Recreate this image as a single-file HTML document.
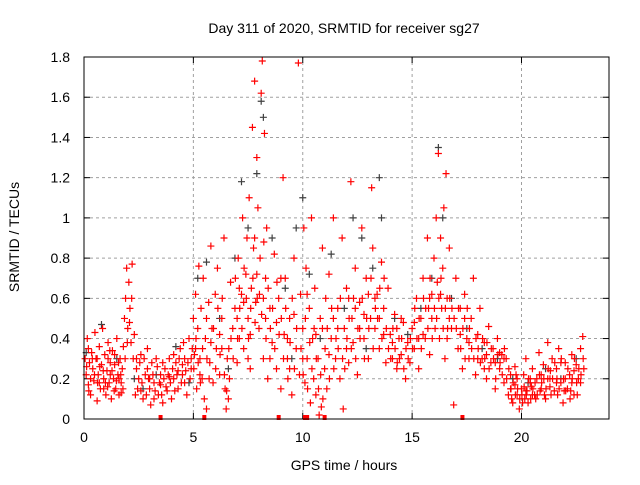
<!DOCTYPE html>
<html><head><meta charset="utf-8"><style>
html,body{margin:0;padding:0;background:#fff;}
svg text{font-family:"Liberation Sans",sans-serif;}
</style></head><body>
<svg id="chart" width="640" height="480" viewBox="0 0 640 480" xmlns="http://www.w3.org/2000/svg">
<rect width="640" height="480" fill="#fff"/>
<text x="344" y="33" font-size="14" text-anchor="middle" fill="#000">Day 311 of 2020, SRMTID for receiver sg27</text>
<g id="grid"></g>
<g id="ticks"></g>
<g id="marks"></g>
<rect x="84" y="57" width="525" height="362" fill="none" stroke="#000" stroke-width="1"/>
<text x="344" y="470" font-size="14" text-anchor="middle">GPS time / hours</text>
<text transform="translate(19,237) rotate(-90)" font-size="14" text-anchor="middle">SRMTID / TECUs</text>
</svg>
<script>
const xTicks=[0,5,10,15,20];
const yTicks=[0,0.2,0.4,0.6,0.8,1,1.2,1.4,1.6,1.8];
const yTickLabels=["0","0.2","0.4","0.6","0.8","1","1.2","1.4","1.6","1.8"];
const zeroMarkHours=[3.5,5.5,8.9,10.1,10.2,11.0,17.3];
const blackSeries=[[0.1,0.33],[0.8,0.47],[1.5,0.3],[2.3,0.2],[3.3,0.22],[4.2,0.36],[5.2,0.7],[5.6,0.78],[6.2,0.5],[6.9,0.8],[7.2,1.18],[7.5,0.95],[7.9,1.22],[8.1,1.58],[8.2,1.5],[8.6,0.9],[9.2,0.65],[9.7,0.95],[10.0,1.1],[10.3,0.72],[10.8,0.4],[11.3,0.82],[11.9,0.55],[12.3,1.0],[12.7,0.9],[13.2,0.75],[13.6,1.0],[13.5,1.2],[14.2,0.5],[14.8,0.42],[15.4,0.55],[15.9,0.7],[16.2,1.35],[16.4,1.0],[16.8,0.6],[17.5,0.45],[18.2,0.35],[18.9,0.3],[19.6,0.2],[20.3,0.18],[21.1,0.25],[21.8,0.2],[22.5,0.3],[12.9,0.35],[9.5,0.3],[6.6,0.25],[4.8,0.18],[2.7,0.15]];
const redSeries=[
[0.05,0.3],[0.1,0.22],[0.15,0.4],[0.2,0.17],[0.25,0.28],[0.3,0.12],[0.35,0.33],[0.4,0.25],[0.45,0.19],[0.5,0.43],[0.55,0.3],[0.6,0.09],[0.65,0.22],[0.7,0.36],[0.75,0.15],[0.8,0.27],[0.85,0.45],[0.9,0.2],[0.95,0.32],[1.0,0.12],[1.05,0.24],[1.1,0.38],[1.15,0.18],[1.2,0.28],[1.25,0.1],[1.3,0.34],[1.35,0.2],[1.4,0.27],[1.45,0.15],[1.5,0.4],[1.55,0.22],[1.6,0.12],[1.65,0.3],[1.7,0.18],[1.75,0.25],[1.8,0.36],[1.85,0.5],[1.9,0.6],[1.95,0.75],[2.0,0.45],[2.05,0.68],[2.1,0.55],[2.15,0.38],[2.2,0.77],[2.25,0.3],[2.3,0.42],[2.35,0.12],[2.4,0.25],[2.5,0.2],[2.6,0.32],[2.7,0.1],[2.8,0.22],[2.9,0.35],[3.0,0.15],[3.05,0.07],[3.1,0.28],[3.2,0.18],[3.3,0.3],[3.4,0.12],[3.5,0.22],[3.6,0.08],[3.7,0.25],[3.8,0.14],[3.9,0.3],[4.0,0.1],[4.1,0.2],[4.2,0.28],[4.3,0.15],[4.4,0.35],[4.5,0.22],[4.6,0.3],[4.7,0.12],[4.8,0.4],[4.9,0.25],[5.0,0.5],[5.05,0.32],[5.1,0.62],[5.15,0.15],[5.2,0.45],[5.25,0.76],[5.3,0.3],[5.35,0.55],[5.4,0.2],[5.45,0.7],[5.5,0.1],[5.55,0.4],[5.6,0.05],[5.7,0.58],[5.75,0.28],[5.8,0.86],[5.85,0.45],[5.9,0.18],[6.0,0.62],[6.05,0.35],[6.1,0.75],[6.2,0.22],[6.3,0.5],[6.4,0.9],[6.45,0.15],[6.5,0.05],[6.55,0.3],[6.6,0.1],[6.65,0.2],[6.7,0.68],[6.8,0.45],[6.9,0.55],[7.0,0.28],[7.05,0.8],[7.1,0.4],[7.2,0.62],[7.25,1.0],[7.3,0.35],[7.4,0.72],[7.45,0.9],[7.5,0.5],[7.55,1.1],[7.6,0.25],[7.65,0.65],[7.7,1.45],[7.75,0.85],[7.8,1.68],[7.85,0.58],[7.9,1.3],[7.95,1.05],[8.0,0.45],[8.05,0.8],[8.1,1.62],[8.15,1.78],[8.2,0.3],[8.25,1.42],[8.3,0.7],[8.35,0.95],[8.4,0.2],[8.5,0.55],[8.6,0.38],[8.7,0.82],[8.8,0.25],[8.9,0.6],[9.0,0.15],[9.1,1.2],[9.15,0.42],[9.2,0.7],[9.3,0.3],[9.4,0.5],[9.5,0.12],[9.6,0.8],[9.7,0.35],[9.8,1.77],[9.85,0.22],[9.9,0.62],[10.0,0.45],[10.05,0.95],[10.1,0.18],[10.15,0.75],[10.2,0.3],[10.3,0.55],[10.35,0.08],[10.4,1.0],[10.45,0.4],[10.5,0.2],[10.55,0.65],[10.6,0.12],[10.7,0.3],[10.75,0.02],[10.8,0.5],[10.85,0.06],[10.9,0.85],[11.0,0.25],[11.05,0.6],[11.1,0.15],[11.2,0.72],[11.3,0.4],[11.4,1.0],[11.5,0.3],[11.6,0.55],[11.7,0.2],[11.8,0.9],[11.85,0.05],[11.9,0.45],[12.0,0.65],[12.1,0.28],[12.2,1.18],[12.25,0.5],[12.3,0.38],[12.4,0.75],[12.5,0.22],[12.6,0.58],[12.7,0.95],[12.8,0.4],[12.9,0.7],[13.0,0.3],[13.1,0.5],[13.15,1.15],[13.2,0.85],[13.3,0.45],[13.4,0.62],[13.5,0.35],[13.6,0.78],[13.7,0.55],[13.8,0.28],[13.9,0.65],[14.0,0.42],[14.1,0.3],[14.2,0.52],[14.3,0.25],[14.4,0.4],[14.5,0.32],[14.6,0.48],[14.7,0.2],[14.8,0.38],[14.9,0.28],[15.0,0.45],[15.1,0.35],[15.2,0.6],[15.3,0.25],[15.4,0.5],[15.5,0.7],[15.6,0.4],[15.7,0.9],[15.75,0.55],[15.8,0.32],[15.9,0.62],[16.0,0.8],[16.05,0.45],[16.1,1.0],[16.15,0.68],[16.2,1.32],[16.25,0.4],[16.3,0.9],[16.35,0.55],[16.4,0.75],[16.45,1.05],[16.5,0.3],[16.55,1.22],[16.6,0.6],[16.7,0.85],[16.8,0.45],[16.9,0.07],[17.0,0.7],[17.1,0.35],[17.2,0.55],[17.3,0.25],[17.4,0.62],[17.5,0.4],[17.6,0.3],[17.7,0.5],[17.8,0.7],[17.9,0.22],[18.0,0.42],[18.1,0.55],[18.2,0.3],[18.3,0.38],[18.4,0.2],[18.5,0.46],[18.6,0.28],[18.7,0.35],[18.8,0.15],[18.9,0.4],[19.0,0.25],[19.1,0.32],[19.2,0.18],[19.3,0.3],[19.4,0.12],[19.5,0.22],[19.6,0.08],[19.7,0.17],[19.8,0.12],[19.9,0.05],[20.0,0.15],[20.1,0.22],[20.15,0.1],[20.2,0.3],[20.3,0.08],[20.4,0.18],[20.5,0.25],[20.6,0.12],[20.7,0.2],[20.8,0.33],[20.9,0.15],[21.0,0.27],[21.1,0.1],[21.2,0.38],[21.3,0.2],[21.4,0.3],[21.5,0.14],[21.6,0.25],[21.7,0.35],[21.8,0.18],[21.9,0.08],[22.0,0.28],[22.1,0.15],[22.2,0.22],[22.3,0.32],[22.4,0.12],[22.5,0.27],[22.6,0.2],[22.7,0.35],[22.8,0.41],[22.85,0.25],
[0.3,0.2],[0.6,0.3],[0.9,0.15],[1.2,0.22],[1.4,0.32],[1.7,0.13],[2.6,0.14],[2.9,0.25],[3.2,0.1],[3.5,0.17],[3.9,0.21],[4.3,0.24],[4.6,0.18],[4.9,0.3],[5.3,0.22],[5.8,0.38],[6.2,0.42],[7.0,0.5],[7.3,0.58],[7.6,0.42],[7.9,0.72],[8.2,0.6],[8.5,0.3],[8.8,0.48],[9.3,0.4],[9.6,0.52],[10.2,0.62],[10.6,0.42],[11.2,0.32],[11.6,0.45],[12.0,0.35],[12.4,0.55],[12.8,0.52],[13.3,0.6],[13.7,0.42],[14.1,0.38],[14.5,0.5],[15.1,0.48],[15.5,0.42],[15.9,0.5],[16.3,0.62],[16.7,0.5],[17.2,0.42],[17.6,0.38],[18.0,0.3],[18.4,0.32],[18.8,0.28],[19.2,0.3],[19.5,0.15],[19.8,0.2],[20.2,0.14],[20.5,0.12],[20.9,0.22],[21.3,0.16],[21.6,0.18],[22.0,0.2],[22.4,0.24],[22.7,0.18],
[0.2,0.35],[0.7,0.18],[1.1,0.3],[1.6,0.2],[2.4,0.3],[3.0,0.2],[3.6,0.28],[4.1,0.32],[4.5,0.27],[5.1,0.35],[5.6,0.5],[6.3,0.35],[7.1,0.65],[7.5,0.3],[7.8,0.9],[8.3,0.5],[9.0,0.7],[9.4,0.25],[10.0,0.3],[10.9,0.45],[11.4,0.5],[12.1,0.6],[12.6,0.45],[13.0,0.62],[13.5,0.5],[14.3,0.45],[15.3,0.4],[15.8,0.6],[16.6,0.4],[17.4,0.5],[18.3,0.25],[19.0,0.33],[19.7,0.26],[20.4,0.2],[21.2,0.2],[21.8,0.28],[22.3,0.18],
[0.12,0.26],[0.22,0.14],[0.38,0.3],[0.48,0.22],[0.62,0.18],[0.72,0.26],[0.88,0.24],[0.98,0.18],[1.08,0.16],[1.18,0.34],[1.28,0.24],[1.38,0.14],[1.48,0.19],[1.58,0.28],[1.68,0.22],[1.78,0.15],[1.88,0.3],[1.98,0.38],[2.08,0.48],[2.18,0.6],[2.45,0.15],[2.55,0.28],[2.65,0.18],[2.75,0.3],[2.85,0.12],[2.95,0.2],[3.15,0.22],[3.25,0.14],[3.35,0.26],[3.45,0.18],[3.55,0.12],[3.65,0.2],[3.75,0.16],[3.85,0.22],[3.95,0.18],[4.05,0.25],[4.15,0.14],[4.25,0.22],[4.35,0.3],[4.45,0.18],[4.55,0.38],[4.65,0.24],[4.75,0.28],[4.85,0.2],[4.95,0.35],[5.02,0.25],[5.12,0.4],[5.22,0.28],[5.32,0.18],[5.42,0.35],[5.62,0.3],[5.72,0.2],[5.92,0.45],[6.02,0.25],[6.12,0.55],[6.22,0.32],[6.32,0.6],[6.42,0.22],[6.52,0.14],[6.62,0.35],[6.72,0.4],[6.82,0.3],[6.92,0.7],[7.02,0.4],[7.12,0.55],[7.22,0.45],[7.32,0.75],[7.42,0.6],[7.52,0.4],[7.62,0.55],[7.72,0.7],[7.82,0.48],[7.92,0.6],[8.02,0.62],[8.12,0.52],[8.22,0.88],[8.32,0.4],[8.42,0.65],[8.52,0.45],[8.62,0.55],[8.72,0.35],[8.82,0.68],[8.92,0.42],[9.02,0.5],[9.12,0.3],[9.22,0.55],[9.32,0.2],[9.42,0.38],[9.52,0.6],[9.62,0.25],[9.72,0.45],[9.92,0.35],[10.02,0.22],[10.12,0.5],[10.22,0.15],[10.32,0.38],[10.42,0.25],[10.52,0.45],[10.62,0.3],[10.72,0.15],[10.82,0.22],[10.92,0.1],[11.02,0.35],[11.12,0.45],[11.22,0.2],[11.32,0.55],[11.42,0.25],[11.52,0.4],[11.62,0.35],[11.72,0.6],[11.82,0.3],[11.92,0.25],[12.02,0.4],[12.12,0.5],[12.22,0.35],[12.32,0.6],[12.42,0.3],[12.52,0.45],[12.62,0.4],[12.72,0.6],[12.82,0.3],[12.92,0.5],[13.02,0.45],[13.12,0.7],[13.22,0.35],[13.32,0.55],[13.42,0.5],[13.52,0.65],[13.62,0.4],[13.72,0.7],[13.82,0.45],[13.92,0.35],[14.02,0.3],[14.12,0.45],[14.22,0.35],[14.32,0.28],[14.42,0.3],[14.52,0.4],[14.62,0.25],[14.72,0.35],[14.82,0.3],[14.92,0.4],[15.02,0.35],[15.12,0.55],[15.22,0.4],[15.32,0.5],[15.42,0.35],[15.52,0.6],[15.62,0.55],[15.72,0.45],[15.82,0.7],[15.92,0.4],[16.02,0.55],[16.12,0.5],[16.22,0.6],[16.32,0.7],[16.42,0.45],[16.52,0.55],[16.62,0.45],[16.72,0.6],[16.82,0.55],[16.92,0.5],[17.02,0.45],[17.12,0.55],[17.22,0.35],[17.32,0.45],[17.42,0.3],[17.52,0.55],[17.62,0.45],[17.72,0.35],[17.82,0.3],[17.92,0.4],[18.02,0.35],[18.12,0.28],[18.22,0.4],[18.32,0.3],[18.42,0.38],[18.52,0.25],[18.62,0.35],[18.72,0.3],[18.82,0.2],[18.92,0.32],[19.02,0.28],[19.12,0.22],[19.22,0.35],[19.32,0.2],[19.42,0.25],[19.52,0.15],[19.62,0.18],[19.72,0.12],[19.82,0.15],[19.92,0.1],[20.02,0.12],[20.12,0.16],[20.22,0.12],[20.32,0.2],[20.42,0.1],[20.52,0.15],[20.62,0.18],[20.72,0.12],[20.82,0.22],[20.92,0.18],[21.02,0.2],[21.12,0.15],[21.22,0.25],[21.32,0.24],[21.42,0.2],[21.52,0.28],[21.62,0.2],[21.72,0.15],[21.82,0.3],[21.92,0.2],[22.02,0.14],[22.12,0.25],[22.22,0.1],[22.32,0.2],[22.42,0.3],[22.52,0.18],[22.62,0.25],[22.72,0.22],[22.82,0.3],[19.55,0.1],[19.75,0.22],[20.05,0.08],[20.25,0.14],[20.45,0.16],[20.65,0.1],[20.85,0.14],[21.05,0.12],[21.35,0.12],[21.65,0.12],[21.95,0.14],[22.25,0.14],[22.55,0.12]
];
const X0=84,X1=609,Y0=419,Y1=57,XMAX=24,YMAX=1.8;
function sx(h){return X0+(X1-X0)*h/XMAX;}
function sy(v){return Y0-(Y0-Y1)*v/YMAX;}
const NS="http://www.w3.org/2000/svg";
function mk(t,a,p){const e=document.createElementNS(NS,t);for(const k in a)e.setAttribute(k,a[k]);p.appendChild(e);return e;}
const grid=document.getElementById('grid'),ticks=document.getElementById('ticks'),marks=document.getElementById('marks');
xTicks.forEach(t=>{const x=sx(t);
 if(t>0){const g=mk('line',{x1:x,x2:x,y1:Y0,y2:Y1,stroke:'#a0a0a0','stroke-dasharray':'3,3'},grid);
 
 }
 mk('line',{x1:x,x2:x,y1:Y0,y2:Y0-6,stroke:'#000'},ticks);mk('line',{x1:x,x2:x,y1:Y1,y2:Y1+6,stroke:'#000'},ticks);
 const l=mk('text',{x:x,y:442,'font-size':14,'text-anchor':'middle'},ticks);l.textContent=String(t);
 
 });
yTicks.forEach((t,i)=>{const y=sy(t);
 if(t>0&&t<YMAX){const g=mk('line',{x1:X0,x2:X1,y1:y,y2:y,stroke:'#a0a0a0','stroke-dasharray':'3,3'},grid);
 
 }
 mk('line',{x1:X0,x2:X0+6,y1:y,y2:y,stroke:'#000'},ticks);mk('line',{x1:X1,x2:X1-6,y1:y,y2:y,stroke:'#000'},ticks);
 const l=mk('text',{x:70,y:y+5,'font-size':14,'text-anchor':'end'},ticks);l.textContent=yTickLabels[i];
 
 });
function plus(h,v,c,name){const x=sx(h),y=sy(v);
 const p=mk('path',{d:`M${x-3.5},${y}H${x+3.5}M${x},${y-3.5}V${y+3.5}`,stroke:c,'stroke-width':1.2,fill:'none'},marks);
 
 }
blackSeries.forEach(d=>plus(d[0],d[1],'#404040','black-point'));
redSeries.forEach(d=>plus(d[0],d[1],'#ff0000','red-point'));
zeroMarkHours.forEach(h=>{const r=mk('rect',{x:sx(h)-2,y:Y0-4,width:4,height:5,fill:'#ff0000'},marks);
 
 });
</script>
</body></html>
